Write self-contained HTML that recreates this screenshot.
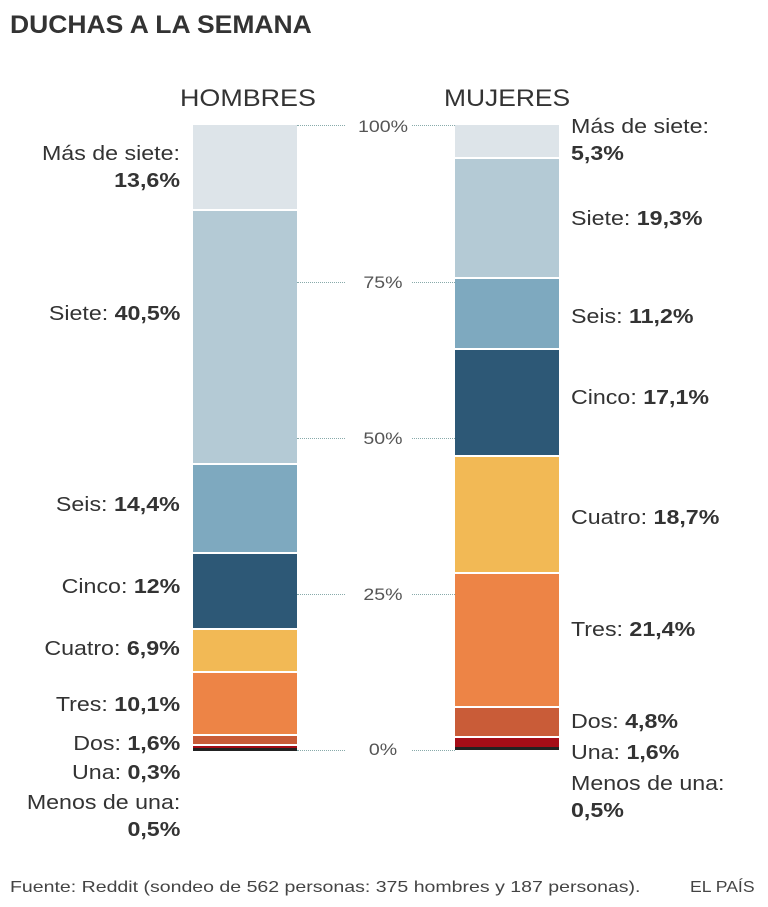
<!DOCTYPE html><html><head><meta charset="utf-8"><style>
body{margin:0;width:768px;height:907px;background:#fff;position:relative;font-family:"Liberation Sans",sans-serif;color:#333;overflow:hidden}
div{position:absolute}
.s{width:104px}
.l{font-size:20px;line-height:27px;color:#333;white-space:nowrap}
.r{right:588px;text-align:right;transform:scaleX(1.16);transform-origin:right center}
.m{left:571px;transform:scaleX(1.16);transform-origin:left center}
b{font-weight:bold}
.d{height:0;border-top:1px dotted #8aa;}
.t{font-size:17px;color:#555;width:70px;text-align:center;left:348px;transform:scaleX(1.15)}
</style></head><body>
<div style="left:10px;top:11px;font-size:25px;font-weight:bold;color:#333;transform:scaleX(1.06);transform-origin:left center;white-space:nowrap">DUCHAS A LA SEMANA</div>
<div style="left:180px;top:85px;font-size:24px;color:#333;transform:scaleX(1.12);transform-origin:left center">HOMBRES</div>
<div style="left:444px;top:85px;font-size:24px;color:#333;transform:scaleX(1.1);transform-origin:left center">MUJERES</div>
<!-- hombres -->
<div class="s" style="left:193px;top:125px;height:84px;background:#dde4e9"></div>
<div class="s" style="left:193px;top:211px;height:252px;background:#b4cad5"></div>
<div class="s" style="left:193px;top:465px;height:87px;background:#7ea9bf"></div>
<div class="s" style="left:193px;top:554px;height:74px;background:#2d5876"></div>
<div class="s" style="left:193px;top:630px;height:41px;background:#f2b955"></div>
<div class="s" style="left:193px;top:673px;height:61px;background:#ed8446"></div>
<div class="s" style="left:193px;top:736px;height:8px;background:#c95c38"></div>
<div class="s" style="left:193px;top:746px;height:2px;background:#a50d17"></div>
<div class="s" style="left:193px;top:748px;height:3px;background:#222"></div>
<!-- mujeres -->
<div class="s" style="left:455px;top:125px;height:32px;background:#dde4e9"></div>
<div class="s" style="left:455px;top:159px;height:118px;background:#b4cad5"></div>
<div class="s" style="left:455px;top:279px;height:69px;background:#7ea9bf"></div>
<div class="s" style="left:455px;top:350px;height:105px;background:#2d5876"></div>
<div class="s" style="left:455px;top:457px;height:115px;background:#f2b955"></div>
<div class="s" style="left:455px;top:574px;height:132px;background:#ed8446"></div>
<div class="s" style="left:455px;top:708px;height:28px;background:#c95c38"></div>
<div class="s" style="left:455px;top:738px;height:9px;background:#a50d17"></div>
<div class="s" style="left:455px;top:747px;height:3px;background:#222"></div>
<!-- axis -->
<div class="d" style="left:297px;width:48px;top:125px"></div><div class="d" style="left:412px;width:43px;top:125px"></div>
<div class="d" style="left:297px;width:48px;top:282px"></div><div class="d" style="left:412px;width:43px;top:282px"></div>
<div class="d" style="left:297px;width:48px;top:438px"></div><div class="d" style="left:412px;width:43px;top:438px"></div>
<div class="d" style="left:297px;width:48px;top:594px"></div><div class="d" style="left:412px;width:43px;top:594px"></div>
<div class="d" style="left:297px;width:48px;top:750px"></div><div class="d" style="left:412px;width:43px;top:750px"></div>
<div class="t" style="top:117px">100%</div>
<div class="t" style="top:273px">75%</div>
<div class="t" style="top:429px">50%</div>
<div class="t" style="top:585px">25%</div>
<div class="t" style="top:740px">0%</div>
<!-- hombres labels -->
<div class="l r" style="top:141px">Más de siete:<br><b>13,6%</b></div>
<div class="l r" style="top:301px">Siete: <b>40,5%</b></div>
<div class="l r" style="top:492px">Seis: <b>14,4%</b></div>
<div class="l r" style="top:574px">Cinco: <b>12%</b></div>
<div class="l r" style="top:636px">Cuatro: <b>6,9%</b></div>
<div class="l r" style="top:692px">Tres: <b>10,1%</b></div>
<div class="l r" style="top:731px">Dos: <b>1,6%</b></div>
<div class="l r" style="top:760px">Una: <b>0,3%</b></div>
<div class="l r" style="top:790px">Menos de una:<br><b>0,5%</b></div>
<!-- mujeres labels -->
<div class="l m" style="top:114px">Más de siete:<br><b>5,3%</b></div>
<div class="l m" style="top:206px">Siete: <b>19,3%</b></div>
<div class="l m" style="top:304px">Seis: <b>11,2%</b></div>
<div class="l m" style="top:385px">Cinco: <b>17,1%</b></div>
<div class="l m" style="top:505px">Cuatro: <b>18,7%</b></div>
<div class="l m" style="top:617px">Tres: <b>21,4%</b></div>
<div class="l m" style="top:709px">Dos: <b>4,8%</b></div>
<div class="l m" style="top:740px">Una: <b>1,6%</b></div>
<div class="l m" style="top:771px">Menos de una:<br><b>0,5%</b></div>
<div style="left:10px;top:879px;font-size:16px;color:#444;white-space:nowrap;transform:scaleX(1.22);transform-origin:left center">Fuente: Reddit (sondeo de 562 personas: 375 hombres y 187 personas).</div>
<div style="left:690px;top:879px;font-size:16px;color:#444;white-space:nowrap;transform:scaleX(1.1);transform-origin:left center">EL PAÍS</div>
</body></html>
